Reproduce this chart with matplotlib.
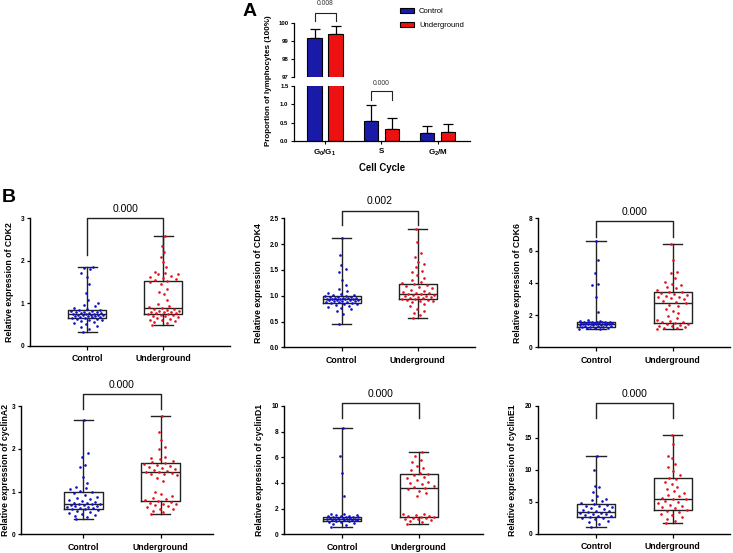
import matplotlib
matplotlib.use('Agg')
import matplotlib.pyplot as plt
import numpy as np

plt.rcParams['font.family'] = ['Liberation Sans', 'DejaVu Sans']
plt.rcParams['mathtext.fontset'] = 'custom'
plt.rcParams['mathtext.rm'] = 'Liberation Sans:bold'
plt.rcParams['mathtext.it'] = 'Liberation Sans:bold'
plt.rcParams['mathtext.bf'] = 'Liberation Sans:bold'

# ---------------- Panel A data ----------------
phases = ['G$_0$/G$_1$', 'S', 'G$_2$/M']
ctrl_mean = [99.20, 0.55, 0.22]
ctrl_sd = [0.48, 0.44, 0.19]
ug_mean = [99.42, 0.34, 0.24]
ug_sd = [0.43, 0.28, 0.24]
groups = ['Control', 'Underground']
p_g0g1 = '0.008'
p_s = '0.000'

# ---------------- Panel B data ----------------
cdk2_ctrl = [0.32, 0.40, 0.45, 0.48, 0.52, 0.55, 0.57, 0.59, 0.60, 0.62, 0.63, 0.64, 0.65, 0.66, 0.67,
             0.68, 0.69, 0.70, 0.70, 0.71, 0.72, 0.72, 0.73, 0.74, 0.74, 0.75, 0.75, 0.76, 0.77, 0.78,
             0.78, 0.79, 0.80, 0.81, 0.82, 0.83, 0.84, 0.85, 0.87, 0.90, 0.93, 0.96, 1.00, 1.08, 1.25,
             1.45, 1.62, 1.72, 1.80, 1.84, 1.86]
cdk2_ug = [0.50, 0.53, 0.56, 0.58, 0.60, 0.62, 0.64, 0.66, 0.68, 0.70, 0.71, 0.72, 0.74, 0.75, 0.76,
           0.77, 0.78, 0.79, 0.80, 0.81, 0.82, 0.83, 0.85, 0.86, 0.88, 0.90, 0.92, 0.94, 0.98, 1.08,
           1.22, 1.28, 1.35, 1.45, 1.50, 1.52, 1.55, 1.58, 1.60, 1.62, 1.65, 1.68, 1.70, 1.72, 1.75,
           1.85, 1.98, 2.10, 2.22, 2.35, 2.58]
cdk2_box_ctrl = [0.32, 0.65, 0.75, 0.85, 1.86]   # min, q1, median, q3, max
cdk2_box_ug = [0.50, 0.76, 0.90, 1.52, 2.58]

cdk4_ctrl = [0.46, 0.65, 0.70, 0.74, 0.77, 0.79, 0.81, 0.82, 0.83, 0.84, 0.85, 0.86, 0.87, 0.88, 0.88,
             0.89, 0.90, 0.90, 0.91, 0.91, 0.92, 0.92, 0.93, 0.93, 0.93, 0.94, 0.94, 0.95, 0.95, 0.96,
             0.96, 0.97, 0.97, 0.98, 0.99, 1.00, 1.01, 1.02, 1.04, 1.06, 1.10, 1.13, 1.20, 1.30, 1.45,
             1.52, 1.60, 1.78, 2.11]
cdk4_ug = [0.57, 0.62, 0.66, 0.70, 0.75, 0.80, 0.84, 0.87, 0.89, 0.90, 0.91, 0.92, 0.93, 0.94, 0.95,
           0.96, 0.97, 0.98, 0.99, 1.00, 1.01, 1.02, 1.03, 1.04, 1.05, 1.06, 1.08, 1.10, 1.12, 1.14,
           1.16, 1.18, 1.20, 1.22, 1.24, 1.27, 1.30, 1.35, 1.40, 1.45, 1.48, 1.55, 1.62, 1.65, 1.75,
           1.82, 2.05, 2.29]
cdk4_box_ctrl = [0.46, 0.86, 0.93, 0.99, 2.11]
cdk4_box_ug = [0.57, 0.93, 1.03, 1.23, 2.29]

cdk6_ctrl = [1.12, 1.15, 1.18, 1.20, 1.22, 1.24, 1.26, 1.28, 1.30, 1.32, 1.34, 1.36, 1.38, 1.40, 1.41,
             1.42, 1.43, 1.44, 1.45, 1.46, 1.47, 1.48, 1.49, 1.50, 1.51, 1.52, 1.53, 1.54, 1.55, 1.56,
             1.57, 1.58, 1.59, 1.60, 1.62, 1.65, 1.70, 2.20, 3.10, 3.85, 3.90, 4.60, 5.40, 6.57]
cdk6_ug = [1.13, 1.18, 1.22, 1.26, 1.30, 1.34, 1.38, 1.42, 1.46, 1.50, 1.55, 1.60, 1.65, 1.70, 1.80,
           1.95, 2.10, 2.25, 2.40, 2.55, 2.65, 2.75, 2.80, 2.90, 3.00, 3.05, 3.10, 3.15, 3.20, 3.25,
           3.30, 3.35, 3.40, 3.45, 3.55, 3.65, 3.75, 3.85, 3.95, 4.05, 4.30, 4.60, 4.70, 5.40, 6.43]
cdk6_box_ctrl = [1.12, 1.26, 1.43, 1.59, 6.57]
cdk6_box_ug = [1.13, 1.51, 2.77, 3.45, 6.43]

cyca2_ctrl = [0.35, 0.40, 0.43, 0.46, 0.48, 0.50, 0.52, 0.54, 0.56, 0.58, 0.60, 0.61, 0.62, 0.63, 0.64,
              0.66, 0.67, 0.68, 0.69, 0.70, 0.71, 0.72, 0.73, 0.74, 0.76, 0.78, 0.80, 0.82, 0.85, 0.88,
              0.92, 0.96, 1.00, 1.02, 1.05, 1.08, 1.10, 1.20, 1.35, 1.58, 1.62, 1.80, 1.90, 2.67]
cyca2_ug = [0.48, 0.52, 0.55, 0.58, 0.60, 0.63, 0.66, 0.68, 0.70, 0.72, 0.74, 0.76, 0.78, 0.80, 0.83,
            0.86, 0.90, 0.95, 1.00, 1.25, 1.32, 1.38, 1.40, 1.42, 1.44, 1.45, 1.46, 1.48, 1.50, 1.52,
            1.55, 1.58, 1.60, 1.62, 1.64, 1.66, 1.68, 1.72, 1.75, 1.78, 1.80, 2.00, 2.05, 2.20, 2.40, 2.77]
cyca2_box_ctrl = [0.35, 0.58, 0.71, 1.00, 2.67]
cyca2_box_ug = [0.48, 0.78, 1.45, 1.66, 2.77]

cycd1_ctrl = [0.60, 0.70, 0.80, 0.88, 0.94, 0.98, 1.02, 1.05, 1.08, 1.10, 1.12, 1.14, 1.16, 1.18, 1.20,
              1.21, 1.22, 1.24, 1.26, 1.28, 1.30, 1.32, 1.34, 1.36, 1.38, 1.40, 1.42, 1.45, 1.48, 1.52,
              1.56, 1.60, 3.00, 4.80, 6.10, 8.26]
cycd1_ug = [0.83, 0.95, 1.05, 1.12, 1.18, 1.22, 1.26, 1.30, 1.34, 1.38, 1.42, 1.46, 1.50, 1.55, 1.60,
            3.00, 3.20, 3.40, 3.50, 3.60, 3.70, 3.80, 3.90, 4.00, 4.10, 4.20, 4.35, 4.50, 4.60, 4.70,
            4.80, 5.00, 5.20, 5.30, 5.60, 5.80, 6.10, 6.44]
cycd1_box_ctrl = [0.60, 1.06, 1.22, 1.38, 8.26]
cycd1_box_ug = [0.83, 1.35, 3.58, 4.68, 6.44]

cyce1_ctrl = [1.10, 1.60, 1.90, 2.10, 2.30, 2.45, 2.55, 2.65, 2.75, 2.85, 2.95, 3.05, 3.15, 3.25, 3.35,
              3.45, 3.55, 3.65, 3.75, 3.85, 4.00, 4.15, 4.30, 4.45, 4.60, 4.75, 4.90, 5.10, 5.30, 5.50,
              6.00, 6.50, 7.30, 7.50, 10.00, 12.23]
cyce1_ug = [1.77, 2.10, 2.40, 2.70, 3.00, 3.20, 3.40, 3.60, 3.80, 4.00, 4.20, 4.40, 4.60, 4.80, 5.00,
            5.20, 5.40, 5.50, 5.70, 5.90, 6.10, 6.40, 6.70, 7.00, 7.40, 7.80, 8.20, 8.60, 8.80, 9.20,
            9.80, 10.50, 11.00, 11.80, 12.20, 14.00, 15.42]
cyce1_box_ctrl = [1.10, 2.66, 3.44, 4.74, 12.23]
cyce1_box_ug = [1.77, 3.80, 5.50, 8.70, 15.42]

genes = ['CDK2', 'CDK4', 'CDK6', 'cyclinA2', 'cyclinD1', 'cyclinE1']
p_values = ['0.000', '0.002', '0.000', '0.000', '0.000', '0.000']
y_ticks = [[0, 1, 2, 3], [0.0, 0.5, 1.0, 1.5, 2.0, 2.5], [0, 2, 4, 6, 8],
           [0, 1, 2, 3], [0, 2, 4, 6, 8, 10], [0, 5, 10, 15, 20]]
tick_fmt = ['{:.0f}', '{:.1f}', '{:.0f}', '{:.0f}', '{:.0f}', '{:.0f}']
ctrl_values = [cdk2_ctrl, cdk4_ctrl, cdk6_ctrl, cyca2_ctrl, cycd1_ctrl, cyce1_ctrl]
ug_values = [cdk2_ug, cdk4_ug, cdk6_ug, cyca2_ug, cycd1_ug, cyce1_ug]
box_ctrl = [cdk2_box_ctrl, cdk4_box_ctrl, cdk6_box_ctrl, cyca2_box_ctrl, cycd1_box_ctrl, cyce1_box_ctrl]
box_ug = [cdk2_box_ug, cdk4_box_ug, cdk6_box_ug, cyca2_box_ug, cycd1_box_ug, cyce1_box_ug]
bracket_top = [3.0, 2.65, 7.83, 3.28, 10.2, 20.4]
bracket_leg = [2.14, 2.37, 6.86, 2.92, 9.04, 18.1]

# ---------------- figure ----------------
W, H = 733, 553
fig = plt.figure(figsize=(W / 100, H / 100), dpi=100)

BLUE = '#1a1aa8'
RED = '#ee1111'
DOT_BLUE = '#1010c8'
DOT_RED = '#e8101a'
LINE = '#222222'


def ax_px(left, right, top, bottom):
    return fig.add_axes([left / W, 1 - bottom / H, (right - left) / W, (bottom - top) / H])


# ---------- Panel A (broken axis) ----------
axU = ax_px(294, 470, 23.3, 77)
axL = ax_px(294, 470, 86, 141.3)
x = np.arange(len(phases))
off, bw = 0.186, 0.25
for ax in (axU, axL):
    ax.bar(x - off, ctrl_mean, bw, color=BLUE, edgecolor='black', linewidth=0.8, label=groups[0], zorder=2)
    ax.bar(x + off, ug_mean, bw, color=RED, edgecolor='black', linewidth=0.8, label=groups[1], zorder=2)
    ax.errorbar(x - off, ctrl_mean, yerr=[np.zeros(3), ctrl_sd], fmt='none', ecolor='black',
                elinewidth=0.9, capsize=3.5, capthick=0.9, zorder=1)
    ax.errorbar(x + off, ug_mean, yerr=[np.zeros(3), ug_sd], fmt='none', ecolor='black',
                elinewidth=0.9, capsize=3.5, capthick=0.9, zorder=1)
    ax.set_xlim(-0.55, 2.57)
    for s in ('top', 'right'):
        ax.spines[s].set_visible(False)
    ax.spines['left'].set_linewidth(0.9)
    ax.spines['bottom'].set_linewidth(0.9)
    ax.tick_params(axis='y', labelsize=4.3, length=2.5, width=0.8, pad=1.5)

axU.set_ylim(97, 100)
axU.set_yticks([97, 98, 99, 100])
axU.set_yticklabels(['97', '98', '99', '100'], fontweight='bold', fontsize=4.3)
axU.spines['bottom'].set_visible(False)
axU.set_xticks([])
axL.set_ylim(0, 1.5)
axL.set_yticks([0, 0.5, 1.0, 1.5])
axL.set_yticklabels(['0.0', '0.5', '1.0', '1.5'], fontweight='bold', fontsize=4.3)
axL.set_xticks(x)
axL.set_xticklabels(phases, fontsize=5.8, fontweight='bold')
axL.tick_params(axis='x', length=2.5, width=0.8, pad=2)
axL.set_xlabel('Cell Cycle', fontsize=6.9, fontweight='bold', labelpad=4)

# significance brackets panel A
axU.plot([0 - off, 0 - off, 0 + off, 0 + off], [100.15, 100.56, 100.56, 100.15],
         color=LINE, lw=0.8, clip_on=False)
axU.text(0, 101.08, p_g0g1, ha='center', va='center', fontsize=4.9, color='#333333')
axL.plot([1 - off, 1 - off, 1 + off, 1 + off], [1.12, 1.37, 1.37, 1.12],
         color=LINE, lw=0.8, clip_on=False)
axL.text(1, 1.57, p_s, ha='center', va='center', fontsize=4.9, color='#333333', clip_on=False)

fig.text(268 / W, 1 - 81 / H, 'Proportion of lymphocytes (100%)', rotation=90,
         ha='center', va='center', fontsize=5.8, fontweight='bold')
h, l = axL.get_legend_handles_labels()
fig.legend(h, l, loc='upper left', bbox_to_anchor=(393 / W, 1 - 1 / H), frameon=False,
           fontsize=5.5, handlelength=1.9, handleheight=0.75, labelspacing=0.85, handletextpad=0.6)

fig.text(250 / W, 1 - 11 / H, 'A', ha='center', va='center', fontsize=14, fontweight='bold')
fig.text(9 / W, 1 - 198 / H, 'B', ha='center', va='center', fontsize=14, fontweight='bold')

# ---------- Panel B ----------
# left, right, top, bottom, control x, underground x, y-label anchor offset  (pixels)
layout = [(30, 230, 218.3, 346, 87.3, 163.3, 15.6),
          (284.3, 475, 218.3, 347.3, 341.7, 417.7, 21),
          (537.7, 730, 218.3, 347.3, 596, 672.7, 15.3),
          (20.7, 213, 406, 534.3, 83.3, 160.7, 10.5),
          (284.3, 483, 406, 534.3, 342.3, 418.7, 20),
          (537.7, 730, 406, 534, 596, 672.7, 20.3)]


def jitter(vals, span):
    v = np.asarray(vals, dtype=float)
    out = np.zeros_like(v)
    for i, yv in enumerate(v):
        n = np.sum(np.abs(v - yv) < 0.035 * span)
        amp = min(0.22, 0.03 * n)
        out[i] = amp * (((i * 0.618034) % 1) * 2 - 1)
    return out


for k in range(6):
    L, R, T, B, cx, ux, yl = layout[k]
    ax = ax_px(L, R, T, B)
    s = ux - cx
    ax.set_xlim((L - cx) / s, (R - cx) / s)
    ymax = y_ticks[k][-1]
    ax.set_ylim(0, ymax)

    stats = []
    for b in (box_ctrl[k], box_ug[k]):
        stats.append(dict(whislo=b[0], q1=b[1], med=b[2], q3=b[3], whishi=b[4], fliers=[]))
    lp = dict(color=LINE, linewidth=1.0)
    ax.bxp(stats, positions=[0, 1], widths=0.5, capwidths=0.25, showfliers=False,
           boxprops=lp, whiskerprops=lp, capprops=lp, medianprops=lp, zorder=2)

    cv, uv = ctrl_values[k], ug_values[k]
    ax.scatter(0 + jitter(cv, ymax), cv, s=3.6, color=DOT_BLUE, linewidths=0, zorder=3)
    ax.scatter(1 + jitter(uv, ymax), uv, s=3.6, color=DOT_RED, linewidths=0, zorder=3)

    bt, bl = bracket_top[k], bracket_leg[k]
    ax.plot([0, 0, 1, 1], [bl, bt, bt, bl], color=LINE, lw=1.0, clip_on=False)
    ax.annotate(p_values[k], (0.5, bt), xytext=(0, 3), textcoords='offset points',
                ha='center', va='bottom', fontsize=7.5, annotation_clip=False)

    for sp in ('top', 'right'):
        ax.spines[sp].set_visible(False)
    ax.spines['left'].set_linewidth(1.0)
    ax.spines['bottom'].set_linewidth(1.0)
    ax.set_yticks(y_ticks[k])
    ax.set_yticklabels([tick_fmt[k].format(t) for t in y_ticks[k]], fontsize=4.7, fontweight='bold')
    ax.set_xticks([0, 1])
    ax.set_xticklabels(groups, fontsize=6.3, fontweight='bold')
    ax.tick_params(axis='y', length=2.5, width=0.9, pad=1.5)
    ax.tick_params(axis='x', length=3, width=0.9, pad=3)
    ax.set_ylabel('Relative expression of ' + genes[k], fontsize=6.3, fontweight='bold')
    ax.yaxis.set_label_coords(-yl / (R - L), 0.5)

fig.savefig('out.png', dpi=100)
